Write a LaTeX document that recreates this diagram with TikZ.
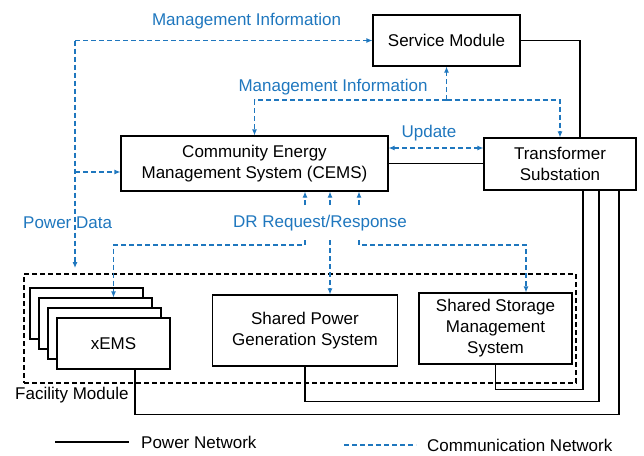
\documentclass[tikz,border=0pt]{standalone}
\usepackage{fontspec}
\setmainfont{Liberation Sans}
\usepackage{tikz}
\usepackage{xcolor}
\usetikzlibrary{arrows.meta}
\definecolor{azul}{RGB}{31,119,190}

\begin{document}
\begin{tikzpicture}[x=1pt, y=-1pt,
	font=\fontsize{17}{21}\selectfont,
	caja/.style={draw=black, line width=1.1pt, fill=white, align=center, inner sep=0pt},
	pot/.style={black, line width=1.1pt},
	com/.style={azul, line width=1.1pt, dash pattern=on 5pt off 3pt},
	flecha/.style={-{Latex[length=6pt,width=5pt]}},
	etq/.style={text=azul, inner sep=0pt}]
				\useasboundingbox (0,0) rectangle (644,455);
				%Modulo de instalaciones
				\node[draw=black, line width=1.1pt, dash pattern=on 5pt off 3pt, minimum width=552pt, minimum height=109pt, inner sep=0pt] (fm) at (300,328.5) {};
				\node[anchor=west, inner sep=0pt] (fmt) at (15,395) {Facility Module};
				%Cajas
				\node[caja, minimum width=147pt, minimum height=51pt] (sm) at (446.5,40.5) {Service Module};
				\node[caja, minimum width=267pt, minimum height=55pt] (cems) at (254.5,163.5) {Community Energy\\Management System (CEMS)};
				\node[caja, minimum width=152pt, minimum height=52pt] (ts) at (560,164) {Transformer\\Substation};
				\foreach \k in {3,2,1}
					\node[caja, minimum width=113pt, minimum height=51pt] (x\k) at ({113.5-9*\k},{343.5-10*\k}) {};
				\node[caja, minimum width=113pt, minimum height=51pt] (x0) at (113.5,343.5) {xEMS};
				\node[caja, minimum width=185pt, minimum height=71pt] (spg) at (305,330.5) {Shared Power\\Generation System};
				\node[caja, minimum width=153pt, minimum height=71pt] (ssm) at (495.5,328.5) {Shared Storage\\Management\\System};
				%Etiquetas
				\node[etq] (mi1) at (246.5,21) {Management Information};
				\node[etq] (mi2) at (333,87) {Management Information};
				\node[etq] (upd) at (429,133) {Update};
				\node[etq, anchor=west] (pd) at (23,223) {Power Data};
				\node[etq] (dr) at (320,223) {DR Request/Response};
				%Red de potencia
				\draw[pot] (sm.east) -| ([xshift=20pt]ts.north);
				\draw[pot] (cems.east) -- (cems.east -| ts.west);
				\draw[pot] (ssm.south) -- ++(0,25) -| ([xshift=23pt]ts.south);
				\draw[pot] (spg.south) -- ++(0,35) -| ([xshift=39pt]ts.south);
				\draw[pot] ([xshift=21.5pt]x0.south) -- ++(0,45) -| ([xshift=59pt]ts.south);
				%Red de comunicacion
				\coordinate (esq) at (75,40.5);
				\coordinate (pdfin) at (75,268);
				\coordinate (cin) at (75,172);
				\draw[com, flecha] (esq) -- (sm.west);
				\draw[com, flecha] (esq) -- (pdfin);
				\draw[com, flecha] (cin) -- (cin -| cems.west);
				\coordinate (rep) at (446.5,100);
				\draw[com, flecha] (rep) -- (sm.south);
				\draw[com, flecha] (rep) -| (cems.north);
				\draw[com, flecha] (rep) -| (ts.north);
				\draw[com, {Latex[length=6pt,width=5pt]}-{Latex[length=6pt,width=5pt]}] ([yshift=15.5pt]cems.east) -- ([yshift=15.5pt]cems.east -| ts.west);
				% DR
				\coordinate (dr1) at (305,205);
				\coordinate (dr2) at (330,205);
				\coordinate (dr3) at (359,205);
				\draw[com, flecha] (dr1) -- (dr1 |- cems.south);
				\draw[com, flecha] (dr2) -- (dr2 |- cems.south);
				\draw[com, flecha] (dr3) -- (dr3 |- cems.south);
				\coordinate (dr1b) at (305,240);
				\coordinate (dr2b) at (330,240);
				\coordinate (dr3b) at (359,240);
				\draw[com, flecha] (dr1b) -- ++(0,5) -| (x0.north |- x2.north);
				\draw[com, flecha] (dr2b) -- (dr2b |- spg.north);
				\draw[com, flecha] (dr3b) -- ++(0,5) -| ([xshift=30.5pt]ssm.north);
				%Leyenda
				\coordinate (l1a) at (55,442);
				\coordinate (l1b) at (129,442);
				\coordinate (l2a) at (344,445);
				\coordinate (l2b) at (416,445);
				\draw[pot] (l1a) -- (l1b);
				\node[anchor=west, inner sep=0pt] (pn) at (141,442) {Power Network};
				\draw[com] (l2a) -- (l2b);
				\node[anchor=west, inner sep=0pt] (cn) at (427,445) {Communication Network};
\end{tikzpicture}
\end{document}
